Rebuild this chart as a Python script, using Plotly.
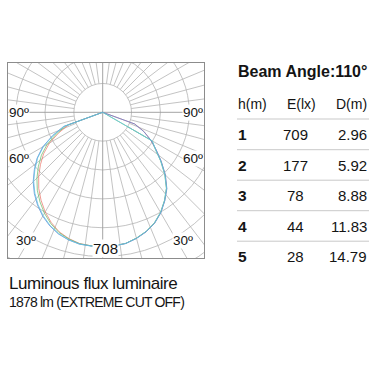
import numpy as np
import plotly.graph_objects as go

# ---------------- data ----------------
gamma_deg = [0, 5, 10, 15, 20, 25, 30, 35, 40, 45, 50, 55, 60, 65, 70, 75, 80, 85, 90]

series_names = ["C0-C180", "C45-C225", "C90-C270", "C135-C315"]
series_colors = ["rgba(235,120,110,0.75)", "rgba(110,190,110,0.75)",
                 "rgba(90,130,215,0.75)", "rgba(100,200,225,0.8)"]

# left half of each plane (cd/klm)
left_red = [708, 706, 702, 689, 670, 641, 606, 566, 524, 477, 428, 380, 324, 255, 190, 0, 0, 0, 0]
left_green = [708, 706, 703, 691, 674, 647, 614, 576, 536, 490, 442, 394, 338, 270, 205, 0, 0, 0, 0]
left_blue = [708, 707, 705, 696, 682, 660, 632, 598, 560, 518, 470, 422, 365, 292, 220, 0, 0, 0, 0]
left_cyan = [708, 707, 705, 695, 680, 657, 628, 594, 556, 514, 466, 418, 360, 288, 216, 0, 0, 0, 0]
# right half of each plane (cd/klm)
right_red = [708, 706, 701, 687, 669, 645, 611, 569, 524, 466, 402, 343, 292, 240, 180, 0, 0, 0, 0]
right_green = [708, 706, 701, 686, 668, 643, 609, 567, 522, 462, 398, 338, 300, 0, 0, 0, 0, 0, 0]
right_blue = [708, 706, 702, 688, 670, 646, 612, 570, 526, 467, 403, 344, 293, 238, 178, 0, 0, 0, 0]
right_cyan = [708, 706, 701, 687, 668, 644, 610, 568, 523, 463, 399, 339, 302, 0, 0, 0, 0, 0, 0]

left_values = [left_red, left_green, left_blue, left_cyan]
right_values = [right_red, right_green, right_blue, right_cyan]

max_label = "708"
ring_step = 152          # cd per grid ring
ring_count = 6
spoke_step = 7.5         # degrees
angle_labels = ["90º", "60º", "30º"]

beam_title = "Beam Angle:110°"
table_header = ["h(m)", "E(lx)", "D(m)"]
heights = ["1", "2", "3", "4", "5"]
illuminance = ["709", "177", "78", "44", "28"]
diameters = ["2.96", "5.92", "8.88", "11.83", "14.79"]

flux_title = "Luminous flux luminaire"
flux_text = "1878 lm (EXTREME CUT OFF)"

# ---------------- layout geometry ----------------
W, H = 376, 370
ML, MR, MT, MB = 8, 172, 63, 112
PW, PH = W - ML - MR, H - MT - MB
cx_px, cy_px = 102.7, 112.3         # pole position in pixels
k = 708 / 134.4                      # cd per pixel
x_range = [-(cx_px - ML) * k, (W - MR - cx_px) * k]
y_range = [-(H - MB - cy_px) * k, (cy_px - MT) * k]


def px(x):
    return (x - ML) / PW


def py(y):
    return 1 - (y - MT) / PH


FONT = "Liberation Sans, Arial, sans-serif"
INK = "#141414"
GRID = "#b4b4b4"

fig = go.Figure()

# spokes (outside the inner ring)
sx, sy = [], []
for a in np.arange(0, 360, spoke_step):
    if abs(a % 90) < 1e-9:
        continue
    t = np.radians(a)
    r0, r1 = ring_step, ring_step * 8
    sx += [r0 * np.sin(t), r1 * np.sin(t), None]
    sy += [-r0 * np.cos(t), -r1 * np.cos(t), None]
fig.add_trace(go.Scatter(x=sx, y=sy, mode="lines", line=dict(color=GRID, width=0.8),
                         hoverinfo="skip", showlegend=False))
# main cross
big = ring_step * 10
fig.add_trace(go.Scatter(x=[-big, big, None, 0, 0], y=[0, 0, None, -big, big], mode="lines",
                         line=dict(color="#9a9a9a", width=0.9), hoverinfo="skip", showlegend=False))

# photometric curves
g = np.radians(np.array(gamma_deg, dtype=float))
for name, col, lv, rv in zip(series_names, series_colors, left_values, right_values):
    lv = np.array(lv, dtype=float)
    rv = np.array(rv, dtype=float)
    xr = (rv * np.sin(g))[::-1]
    yr = (-rv * np.cos(g))[::-1]
    xl = -lv * np.sin(g)
    yl = -lv * np.cos(g)
    fig.add_trace(go.Scatter(x=np.concatenate([xr, xl[1:]]), y=np.concatenate([yr, yl[1:]]),
                             mode="lines", name=name, line=dict(color=col, width=1),
                             hoverinfo="skip", showlegend=False))

shapes = []
for i in range(1, ring_count + 1):
    r = ring_step * i
    shapes.append(dict(type="circle", xref="x", yref="y", x0=-r, x1=r, y0=-r, y1=r,
                       line=dict(color=GRID, width=0.8), layer="below"))

# table separators
row_y = [134.5, 165, 195.5, 226, 256.5]
sep_y = [119, 149.7, 180.2, 210.7, 241.2]
for yv in sep_y:
    shapes.append(dict(type="line", xref="paper", yref="paper", x0=px(237), x1=px(369),
                       y0=py(yv), y1=py(yv), line=dict(color="#c9c9c9", width=1)))

ann = []
lab = dict(font=dict(family=FONT, size=13.5, color=INK), showarrow=False,
           bgcolor="white", borderpad=0)
# angle labels
ann.append(dict(text=angle_labels[0], xref="paper", x=0, xanchor="left", yref="y", y=0,
                yanchor="middle", **lab))
ann.append(dict(text=angle_labels[0], xref="paper", x=1, xanchor="right", yref="y", y=0,
                yanchor="middle", **lab))
ann.append(dict(text=angle_labels[1], xref="paper", x=0, xanchor="left", yref="y",
                y=-(158.5 - cy_px) * k, yanchor="middle", **lab))
ann.append(dict(text=angle_labels[1], xref="paper", x=1, xanchor="right", yref="y",
                y=-(158.5 - cy_px) * k, yanchor="middle", **lab))
ann.append(dict(text=angle_labels[2], xref="x", x=(25.8 - cx_px) * k, xanchor="center",
                yref="y", y=-(240.5 - cy_px) * k, yanchor="middle", **lab))
ann.append(dict(text=angle_labels[2], xref="x", x=(183.3 - cx_px) * k, xanchor="center",
                yref="y", y=-(240.5 - cy_px) * k, yanchor="middle", **lab))
ann.append(dict(text=max_label, xref="x", x=(105.5 - cx_px) * k, xanchor="center",
                yref="paper", y=0, yanchor="bottom",
                font=dict(family=FONT, size=15, color=INK), showarrow=False,
                bgcolor="white", borderpad=0))

# table
ann.append(dict(text="<b>" + beam_title + "</b>", xref="paper", x=px(236), xanchor="left",
                yref="paper", y=py(71.5), yanchor="middle", showarrow=False,
                font=dict(family=FONT, size=16, color=INK)))
hdr_x = [(px(236), "left"), (px(301), "center"), (px(369), "right")]
for txt, (xx, anc) in zip(table_header, hdr_x):
    ann.append(dict(text=txt, xref="paper", x=xx, xanchor=anc, yref="paper", y=py(103.5),
                    yanchor="middle", showarrow=False, font=dict(family=FONT, size=14, color=INK)))
for yv, hh, ee, dd in zip(row_y, heights, illuminance, diameters):
    ann.append(dict(text="<b>" + hh + "</b>", xref="paper", x=px(236), xanchor="left",
                    yref="paper", y=py(yv), yanchor="middle", showarrow=False,
                    font=dict(family=FONT, size=15.5, color=INK)))
    ann.append(dict(text=ee, xref="paper", x=px(295.5), xanchor="center",
                    yref="paper", y=py(yv), yanchor="middle", showarrow=False,
                    font=dict(family=FONT, size=15, color=INK)))
    ann.append(dict(text=dd, xref="paper", x=px(369), xanchor="right",
                    yref="paper", y=py(yv), yanchor="middle", showarrow=False,
                    font=dict(family=FONT, size=15, color=INK)))

# flux text
ann.append(dict(text="<span style='letter-spacing:-0.45px'>" + flux_title + "</span>",
                xref="paper", x=px(7), xanchor="left", yref="paper",
                y=py(283), yanchor="middle", showarrow=False,
                font=dict(family=FONT, size=17, color=INK)))
ann.append(dict(text="<span style='letter-spacing:-0.8px'>" + flux_text + "</span>",
                xref="paper", x=px(7), xanchor="left", yref="paper",
                y=py(302), yanchor="middle", showarrow=False,
                font=dict(family=FONT, size=14, color=INK)))

fig.update_layout(
    width=W, height=H, margin=dict(l=ML, r=MR, t=MT, b=MB),
    paper_bgcolor="white", plot_bgcolor="white",
    shapes=shapes, annotations=ann, showlegend=False,
    xaxis=dict(range=x_range, showgrid=False, zeroline=False, showticklabels=False,
               ticks="", showline=True, linecolor="#8c8c8c", linewidth=1, mirror=True,
               fixedrange=True),
    yaxis=dict(range=y_range, showgrid=False, zeroline=False, showticklabels=False,
               ticks="", showline=True, linecolor="#8c8c8c", linewidth=1, mirror=True,
               fixedrange=True),
)

fig.write_html("out.html", config={"displayModeBar": False},
               post_script="document.body.style.margin='0px';document.body.style.overflow='hidden';")
